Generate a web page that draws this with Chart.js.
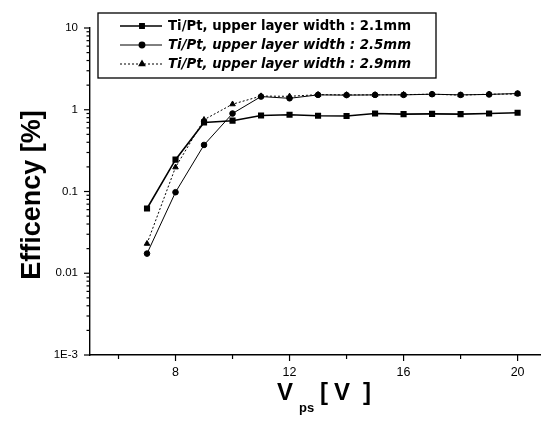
<!DOCTYPE html>
<html>
<head>
<meta charset="utf-8">
<script src="https://cdn.jsdelivr.net/npm/chart.js@4.4.0/dist/chart.umd.min.js"></script>
<style>
  html, body { margin: 0; padding: 0; background: #fff; }
  #wrap { width: 546px; height: 425px; position: relative; }
</style>
</head>
<body>
<div id="wrap"><canvas id="c" width="546" height="425"></canvas></div>
<script>
// data
const voltages = [7, 8, 9, 10, 11, 12, 13, 14, 15, 16, 17, 18, 19, 20];
const eff21 = [0.062, 0.245, 0.70, 0.735, 0.85, 0.87, 0.845, 0.84, 0.90, 0.885, 0.89, 0.885, 0.90, 0.92];
const eff25 = [0.0174, 0.098, 0.371, 0.90, 1.45, 1.38, 1.52, 1.51, 1.52, 1.52, 1.55, 1.52, 1.54, 1.58];
const eff29 = [0.023, 0.198, 0.755, 1.17, 1.47, 1.46, 1.53, 1.52, 1.52, 1.53, 1.55, 1.51, 1.55, 1.56];
const seriesNames = [
  'Ti/Pt, upper layer width : 2.1mm',
  'Ti/Pt, upper layer width : 2.5mm',
  'Ti/Pt, upper layer width : 2.9mm'
];
const yTickValues = [0.001, 0.01, 0.1, 1, 10];
const yTickLabels = ['1E-3', '0.01', '0.1', '1', '10'];
const xTickValues = [8, 12, 16, 20];
const xMinorValues = [6, 10, 14, 18];

const FONT = '"Liberation Sans", Arial, sans-serif';
const WIDE = '"DejaVu Sans", sans-serif';

function pts(ys) {
  return voltages.map((v, i) => ({ x: v, y: ys[i] }));
}

// ticks, axis titles and legend box drawn on top of the chart
const decor = {
  id: 'decor',
  afterDraw(chart) {
    const ctx = chart.ctx;
    const xs = chart.scales.x, ys = chart.scales.y;
    const a = chart.chartArea;
    ctx.save();
    ctx.strokeStyle = '#000';
    ctx.lineWidth = 1.2;
    // y ticks: decades long, 2..9 short
    for (let e = -3; e <= 1; e++) {
      for (let m = 1; m <= 9; m++) {
        const v = m * Math.pow(10, e);
        if (v > 10.0001) continue;
        const py = ys.getPixelForValue(v);
        const len = m === 1 ? 6 : 3.5;
        ctx.beginPath();
        ctx.moveTo(a.left, py);
        ctx.lineTo(a.left - len, py);
        ctx.stroke();
      }
    }
    // x ticks
    xTickValues.concat(xMinorValues).forEach(v => {
      const px = xs.getPixelForValue(v);
      const len = xTickValues.includes(v) ? 6 : 4;
      ctx.beginPath();
      ctx.moveTo(px, a.bottom);
      ctx.lineTo(px, a.bottom + len);
      ctx.stroke();
    });

    // y title
    ctx.fillStyle = '#000';
    ctx.save();
    ctx.translate(33, 195);
    ctx.rotate(-Math.PI / 2);
    ctx.font = 'bold 27px ' + FONT;
    ctx.textAlign = 'center';
    ctx.textBaseline = 'middle';
    ctx.fillText('Efficency [%]', 0, 0);
    ctx.restore();

    // x title with subscript
    ctx.textBaseline = 'alphabetic';
    ctx.textAlign = 'left';
    ctx.font = 'bold 24px ' + FONT;
    ctx.fillText('V', 277, 400);
    ctx.fillText('[', 320, 400);
    ctx.fillText('V', 334, 400);
    ctx.fillText(']', 363, 400);
    ctx.font = 'bold 13px ' + FONT;
    ctx.fillText('ps', 299, 412);

    // legend box
    ctx.lineWidth = 1.3;
    ctx.strokeRect(98, 13, 338, 65);
    const rows = [26, 45, 64];
    chart.data.datasets.forEach((ds, i) => {
      const y = rows[i];
      ctx.save();
      ctx.lineWidth = ds.borderWidth;
      ctx.setLineDash(ds.borderDash || []);
      ctx.beginPath();
      ctx.moveTo(120, y);
      ctx.lineTo(162, y);
      ctx.stroke();
      ctx.restore();
      Chart.helpers.drawPoint(ctx, {
        pointStyle: ds.pointStyle, radius: ds.pointRadius, borderWidth: 1, rotation: 0
      }, 142, y);
      ctx.fill();
      ctx.font = (i === 0 ? 'bold ' : 'oblique bold ') + '13.3px ' + WIDE;
      ctx.textBaseline = 'middle';
      ctx.fillText(seriesNames[i], 168, y + 1);
    });
    ctx.restore();
  }
};

new Chart(document.getElementById('c'), {
  type: 'line',
  data: {
    datasets: [
      {
        label: seriesNames[0], data: pts(eff21),
        borderColor: '#000', backgroundColor: '#000', borderWidth: 1.6,
        pointStyle: 'rect', pointRadius: 3.2
      },
      {
        label: seriesNames[1], data: pts(eff25),
        borderColor: '#000', backgroundColor: '#000', borderWidth: 1,
        pointStyle: 'circle', pointRadius: 2.8
      },
      {
        label: seriesNames[2], data: pts(eff29),
        borderColor: '#000', backgroundColor: '#000', borderWidth: 1, borderDash: [2, 2],
        pointStyle: 'triangle', pointRadius: 3.2
      }
    ]
  },
  options: {
    responsive: false,
    animation: false,
    layout: { padding: { top: 28, right: 0, left: 0, bottom: 0 } },
    plugins: { legend: { display: false }, tooltip: { enabled: false } },
    elements: { line: { tension: 0 }, point: { borderWidth: 1, borderColor: '#000' } },
    scales: {
      x: {
        type: 'linear', min: 5, max: 20.8,
        afterBuildTicks: s => { s.ticks = xTickValues.map(v => ({ value: v })); },
        afterFit: s => { s.height = 70; },
        grid: { display: false, drawTicks: false },
        border: { color: '#000', width: 1.4 },
        ticks: { color: '#000', font: { family: FONT, size: 12.5 }, padding: 10, maxRotation: 0 }
      },
      y: {
        type: 'logarithmic', min: 0.001, max: 10,
        afterBuildTicks: s => { s.ticks = yTickValues.map(v => ({ value: v })); },
        afterFit: s => { s.width = 90; },
        grid: { display: false, drawTicks: false },
        border: { color: '#000', width: 1.4 },
        ticks: {
          color: '#000', font: { family: FONT, size: 11.5 }, padding: 12,
          callback: (v) => yTickLabels[yTickValues.indexOf(v)]
        }
      }
    }
  },
  plugins: [decor]
});
</script>
</body>
</html>
